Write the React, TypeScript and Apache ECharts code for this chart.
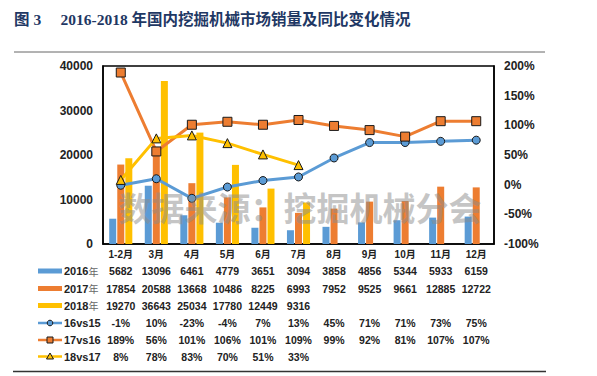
import React, { useEffect, useRef } from "react";
import * as echarts from "echarts";

const categories = ["1-2月", "3月", "4月", "5月", "6月", "7月", "8月", "9月", "10月", "11月", "12月"];
const sales2016 = [5682, 13096, 6461, 4779, 3651, 3094, 3858, 4856, 5344, 5933, 6159];
const sales2017 = [17854, 20588, 13668, 10486, 8225, 6993, 7952, 9525, 9661, 12885, 12722];
const sales2018 = [19270, 36643, 25034, 17780, 12449, 9316];
const yoy16vs15 = [-1, 10, -23, -4, 7, 13, 45, 71, 71, 73, 75];
const yoy17vs16 = [189, 56, 101, 106, 101, 109, 99, 92, 81, 107, 107];
const yoy18vs17 = [8, 78, 83, 70, 51, 33];
const leftTicks = [0, 10000, 20000, 30000, 40000];
const rightTicks = [-100, -50, 0, 50, 100, 150, 200];

const BLUE = "#5B9BD5";
const ORANGE = "#ED7D31";
const YELLOW = "#FFC000";
const FONT = "'Liberation Sans', Arial, 'Noto Sans CJK SC', sans-serif";

const GRID_L = 103;
const GRID_R = 494;
const GRID_T = 66;
const GRID_B = 244;

export default function App() {
  const ref = useRef<HTMLDivElement>(null);
  useEffect(() => {
    if (!ref.current) return;
    const chart = echarts.init(ref.current, null, { renderer: "svg" });
    const colW = (GRID_R - GRID_L) / categories.length;
    const colX = (i: number) => GRID_L + (i + 0.5) * colW;

    const rows = [
      { name: "2016", suffix: "年", vals: sales2016.map(String), kind: "bar", color: BLUE, y: 271 },
      { name: "2017", suffix: "年", vals: sales2017.map(String), kind: "bar", color: ORANGE, y: 288.5 },
      { name: "2018", suffix: "年", vals: sales2018.map(String), kind: "bar", color: YELLOW, y: 305.5 },
      { name: "16vs15", suffix: "", vals: yoy16vs15.map((v) => v + "%"), kind: "circle", color: BLUE, y: 323 },
      { name: "17vs16", suffix: "", vals: yoy17vs16.map((v) => v + "%"), kind: "rect", color: ORANGE, y: 340 },
      { name: "18vs17", suffix: "", vals: yoy18vs17.map((v) => v + "%"), kind: "triangle", color: YELLOW, y: 356.5 },
    ];

    const graphics: any[] = [
      {
        type: "text",
        left: 14,
        top: 12,
        style: {
          text: "图 3     2016-2018 年国内挖掘机械市场销量及同比变化情况",
          font: "bold 15.5px 'Liberation Serif', 'Times New Roman', 'Noto Sans CJK SC', serif",
          fill: "#1F3864",
        },
      },
      {
        type: "line",
        shape: { x1: 14, y1: 52, x2: 545, y2: 52 },
        style: { stroke: "#666", lineWidth: 1 },
      },
      {
        type: "line",
        shape: { x1: 13, y1: 371.5, x2: 546, y2: 371.5 },
        style: { stroke: "#333", lineWidth: 1.5 },
      },
      {
        type: "text",
        x: 300,
        y: 207,
        z: 100,
        style: {
          text: "数据来源：挖掘机械分会",
          font: "bold 33px 'Noto Sans CJK SC', sans-serif",
          fill: "rgba(140,140,140,0.5)",
          align: "center",
          verticalAlign: "middle",
        },
      },
    ];

    rows.forEach((r) => {
      if (r.kind === "bar") {
        graphics.push({
          type: "line",
          shape: { x1: 38, y1: r.y, x2: 62, y2: r.y },
          style: { stroke: r.color, lineWidth: 5 },
        });
      } else {
        graphics.push({
          type: "line",
          shape: { x1: 38, y1: r.y, x2: 62, y2: r.y },
          style: { stroke: r.color, lineWidth: 2.5 },
        });
        if (r.kind === "circle") {
          graphics.push({ type: "circle", shape: { cx: 50, cy: r.y, r: 2.8 }, style: { fill: r.color, stroke: "#1a1a1a", lineWidth: 1 } });
        } else if (r.kind === "rect") {
          graphics.push({ type: "rect", shape: { x: 47, y: r.y - 3, width: 6, height: 6 }, style: { fill: r.color, stroke: "#1a1a1a", lineWidth: 1 } });
        } else {
          graphics.push({
            type: "polygon",
            shape: { points: [[50, r.y - 3.5], [46.5, r.y + 2.5], [53.5, r.y + 2.5]] },
            style: { fill: r.color, stroke: "#1a1a1a", lineWidth: 1 },
          });
        }
      }
      graphics.push({
        type: "text",
        x: 64,
        y: r.y,
        style: {
          text: r.suffix ? `{a|${r.name}}{b|${r.suffix}}` : `{a|${r.name}}`,
          rich: {
            a: { font: `bold 11px ${FONT}`, fill: "#222" },
            b: { font: `10px 'Noto Sans CJK SC', sans-serif`, fill: "#666" },
          },
          verticalAlign: "middle",
        },
      });
      r.vals.forEach((v, i) => {
        graphics.push({
          type: "text",
          x: colX(i),
          y: r.y,
          style: {
            text: v,
            font: `bold 10.5px ${FONT}`,
            fill: "#222",
            align: "center",
            verticalAlign: "middle",
          },
        });
      });
    });

    const markerStyle = { borderColor: "#1a1a1a", borderWidth: 1 };

    chart.setOption({
      animation: false,
      backgroundColor: "#fff",
      grid: {
        left: GRID_L,
        right: 597 - GRID_R,
        top: GRID_T,
        bottom: 376 - GRID_B,
        show: true,
        borderColor: "#000",
        borderWidth: 1.5,
        containLabel: false,
      },
      xAxis: {
        type: "category",
        data: categories,
        axisLine: { lineStyle: { color: "#000", width: 1.5 } },
        axisTick: { show: false },
        axisLabel: { color: "#222", fontWeight: "bold", fontSize: 10, fontFamily: FONT, margin: 5 },
      },
      yAxis: [
        {
          type: "value",
          min: leftTicks[0],
          max: leftTicks[leftTicks.length - 1],
          interval: 10000,
          splitLine: { show: false },
          axisLine: { show: true, lineStyle: { color: "#000", width: 1.5 } },
          axisTick: { show: false },
          axisLabel: {
            color: "#222",
            fontWeight: "bold",
            fontSize: 12,
            fontFamily: FONT,
            margin: 10,
            formatter: (v: number) => String(v),
          },
        },
        {
          type: "value",
          min: rightTicks[0],
          max: rightTicks[rightTicks.length - 1],
          interval: 50,
          splitLine: { show: false },
          axisLine: { show: true, lineStyle: { color: "#000", width: 1.5 } },
          axisTick: { show: false },
          axisLabel: { color: "#222", fontWeight: "bold", fontSize: 12, fontFamily: FONT, margin: 10, formatter: "{value}%" },
        },
      ],
      series: [
        { name: "2016年", type: "bar", data: sales2016, barWidth: 7, barGap: "15%", itemStyle: { color: BLUE } },
        { name: "2017年", type: "bar", data: sales2017, barWidth: 7, barGap: "15%", itemStyle: { color: ORANGE } },
        { name: "2018年", type: "bar", data: sales2018, barWidth: 7, barGap: "15%", itemStyle: { color: YELLOW } },
        {
          name: "16vs15",
          type: "line",
          yAxisIndex: 1,
          data: yoy16vs15,
          symbol: "circle",
          symbolSize: 8,
          lineStyle: { color: BLUE, width: 3 },
          itemStyle: { color: BLUE, ...markerStyle },
          z: 5,
        },
        {
          name: "17vs16",
          type: "line",
          yAxisIndex: 1,
          data: yoy17vs16,
          symbol: "rect",
          symbolSize: 9,
          lineStyle: { color: ORANGE, width: 3 },
          itemStyle: { color: ORANGE, ...markerStyle },
          z: 5,
        },
        {
          name: "18vs17",
          type: "line",
          yAxisIndex: 1,
          data: yoy18vs17,
          symbol: "triangle",
          symbolSize: 9,
          lineStyle: { color: YELLOW, width: 3 },
          itemStyle: { color: YELLOW, ...markerStyle },
          z: 5,
        },
      ],
      graphic: graphics,
    });
    return () => chart.dispose();
  }, []);
  return (
    <div
      ref={ref}
      style={{ position: "fixed", left: 0, top: 0, width: 597, height: 376 }}
    />
  );
}
